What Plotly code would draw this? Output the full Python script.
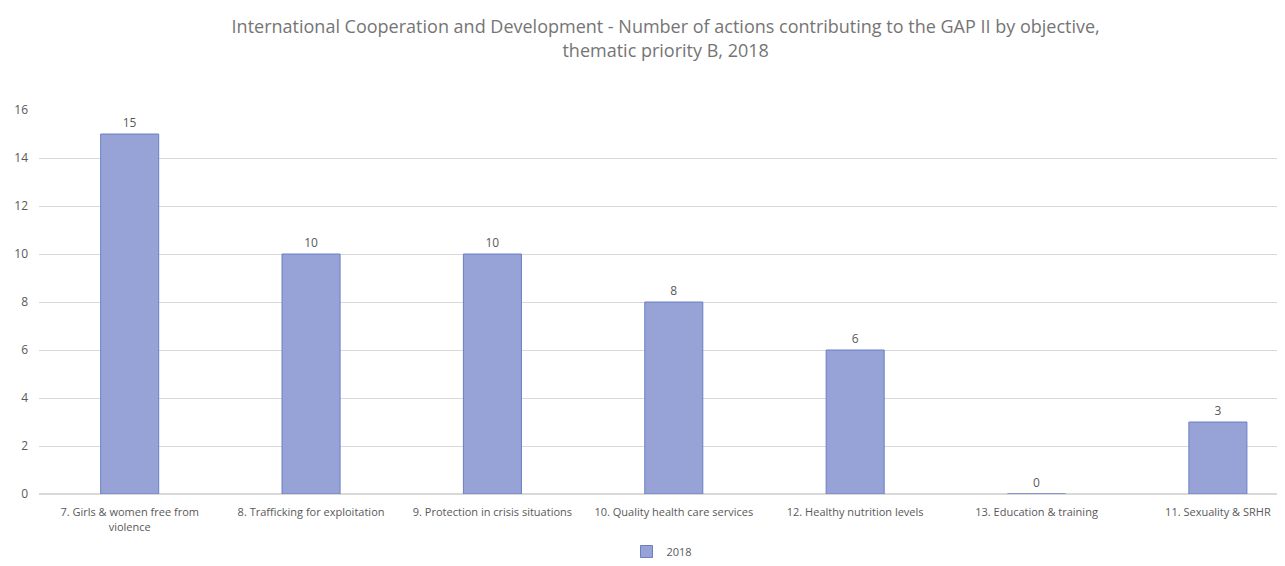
import plotly.graph_objects as go

# Objectives (x categories) and number of actions in 2018
objectives = [
    "7. Girls & women free from<br>violence",
    "8. Trafficking for exploitation",
    "9. Protection in crisis situations",
    "10. Quality health care services",
    "12. Healthy nutrition levels",
    "13. Education & training",
    "11. Sexuality & SRHR",
]
actions_2018 = [15, 10, 10, 8, 6, 0, 3]
series_name = "2018"

_TEXT_GREY = "#595959"
_GRID = "#d9d9d9"
_FONT = "Open Sans"

fig = go.Figure()
fig.add_trace(go.Bar(
    x=objectives,
    y=actions_2018,
    name=series_name,
    width=0.32,
    marker=dict(color="#97a3d6", line=dict(color="#6a7fc4", width=1)),
    text=actions_2018,
    textposition="outside",
    textfont=dict(size=12, color=_TEXT_GREY, family=_FONT),
    cliponaxis=False,
))

# page body has an 8px margin, so the figure is sized 8px smaller
fig.update_layout(
    title=dict(
        text="International Cooperation and Development - Number of actions contributing to the GAP II by objective,<br>thematic priority B, 2018",
        x=0.515, xanchor="center", y=0.955, yanchor="middle",
        font=dict(family=_FONT, size=18, color="#757575"),
    ),
    width=1277, height=558,
    margin=dict(l=31, r=0, t=102, b=72),
    plot_bgcolor="white",
    paper_bgcolor="white",
    font=dict(family=_FONT, color=_TEXT_GREY, size=12),
    showlegend=True,
    legend=dict(
        orientation="h", x=0.5, xanchor="center",
        yref="container", y=-0.018, yanchor="bottom",
        font=dict(size=11, color=_TEXT_GREY),
    ),
)
fig.update_xaxes(
    showgrid=False, showline=True, linecolor=_GRID, linewidth=1,
    range=[-0.5, 6.37],
    tickfont=dict(size=11, color=_TEXT_GREY), tickangle=0,
    ticklabelstandoff=8,
)
fig.update_yaxes(
    range=[0, 16], dtick=2, showgrid=True, gridcolor=_GRID, gridwidth=1,
    zeroline=True, zerolinecolor=_GRID, showline=False,
    tickfont=dict(size=12, color=_TEXT_GREY), ticklabelstandoff=10,
)

fig.write_html("out.html")
